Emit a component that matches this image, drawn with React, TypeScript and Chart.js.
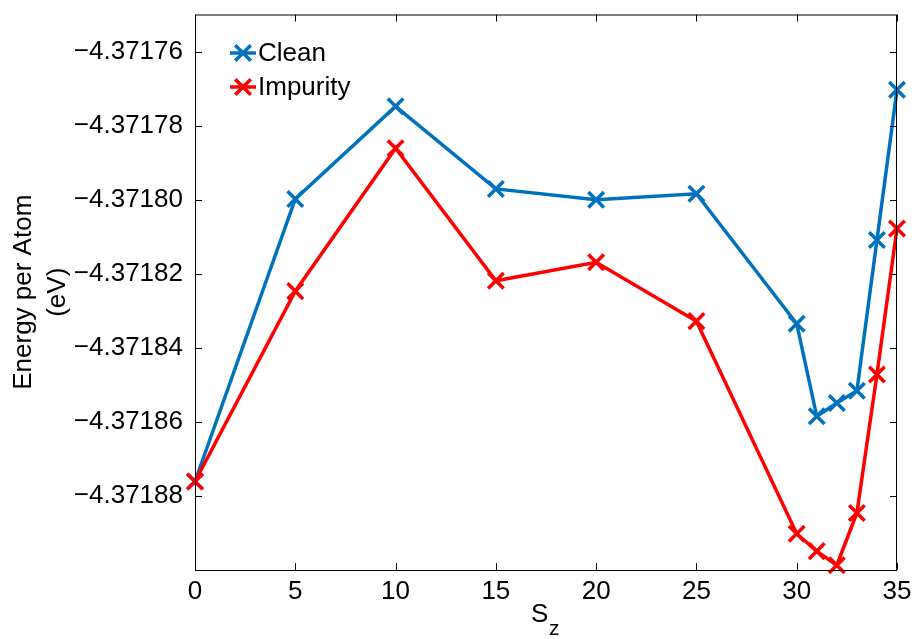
import React, { useEffect, useRef } from "react";
import { Chart, registerables } from "chart.js";

Chart.register(...registerables);

const xValues = [0, 5, 10, 15, 20, 25, 30, 31, 32, 33, 34, 35];
const cleanValues = [
  -4.3718761, -4.3717998, -4.3717748, -4.3717971, -4.37180, -4.3717984,
  -4.3718335, -4.3718585, -4.3718549, -4.3718516, -4.3718109, -4.3717703,
];
const impurityValues = [
  -4.3718761, -4.3718247, -4.3717861, -4.3718219, -4.3718169, -4.3718328,
  -4.3718902, -4.3718949, -4.3718987, -4.3718846, -4.3718472, -4.3718078,
];
const xTicks = [0, 5, 10, 15, 20, 25, 30, 35];
const yTicks = [-4.37188, -4.37186, -4.37184, -4.37182, -4.3718, -4.37178, -4.37176];
const seriesNames = ["Clean", "Impurity"];
const seriesColors = ["#0072BD", "#FF0000"];
const yTitleLines = ["Energy per Atom", "(eV)"];
const xTitleMain = "S";
const xTitleSub = "z";

const FONT = "'Liberation Sans', Arial, Helvetica, sans-serif";
const FS = 26;
const LW = 3.5;

function drawCross(ctx: CanvasRenderingContext2D, x: number, y: number, r: number) {
  const d = r * Math.SQRT1_2;
  ctx.beginPath();
  ctx.moveTo(x - d, y - d);
  ctx.lineTo(x + d, y + d);
  ctx.moveTo(x - d, y + d);
  ctx.lineTo(x + d, y - d);
  ctx.stroke();
}

const decorPlugin = {
  id: "decor",
  afterDraw(chart: any) {
    const { ctx, chartArea } = chart;
    const { left, right, top, bottom } = chartArea;
    const xs = chart.scales.x;
    const ys = chart.scales.y;
    ctx.save();
    ctx.strokeStyle = "#000";
    ctx.lineWidth = 1;
    ctx.strokeRect(left + 0.5, top + 0.5, right - left - 1, bottom - top);
    const tl = 7;
    ctx.beginPath();
    for (const v of xTicks) {
      const px = Math.round(xs.getPixelForValue(v)) + 0.5;
      ctx.moveTo(px, bottom);
      ctx.lineTo(px, bottom - tl);
      ctx.moveTo(px, top);
      ctx.lineTo(px, top + tl);
    }
    for (const v of yTicks) {
      const py = Math.round(ys.getPixelForValue(v)) + 0.5;
      ctx.moveTo(left, py);
      ctx.lineTo(left + tl, py);
      ctx.moveTo(right, py);
      ctx.lineTo(right - tl, py);
    }
    ctx.stroke();

    // y title
    ctx.fillStyle = "#000";
    ctx.font = `${FS}px ${FONT}`;
    ctx.textAlign = "center";
    ctx.textBaseline = "middle";
    const cy = (top + bottom) / 2;
    ctx.save();
    ctx.translate(24, cy);
    ctx.rotate(-Math.PI / 2);
    ctx.fillText(yTitleLines[0], 0, 0);
    ctx.restore();
    ctx.save();
    ctx.translate(58, cy);
    ctx.rotate(-Math.PI / 2);
    ctx.fillText(yTitleLines[1], 0, 0);
    ctx.restore();

    // x title
    ctx.textAlign = "left";
    ctx.textBaseline = "alphabetic";
    ctx.font = `${FS}px ${FONT}`;
    ctx.fillText(xTitleMain, 531, 622);
    ctx.font = `21px ${FONT}`;
    ctx.fillText(xTitleSub, 549, 635);

    // legend
    ctx.font = `${FS}px ${FONT}`;
    ctx.textBaseline = "middle";
    const legY = [53, 87];
    seriesNames.forEach((name, i) => {
      ctx.strokeStyle = seriesColors[i];
      ctx.lineWidth = LW;
      ctx.beginPath();
      ctx.moveTo(230, legY[i]);
      ctx.lineTo(256, legY[i]);
      ctx.stroke();
      drawCross(ctx, 243, legY[i], 11);
      ctx.fillStyle = "#000";
      ctx.fillText(name, 258, legY[i] + 1);
    });
    ctx.restore();
  },
};

export default function App() {
  const canvasRef = useRef<HTMLCanvasElement | null>(null);
  useEffect(() => {
    document.body.style.margin = "0";
    const canvas = canvasRef.current;
    if (!canvas) return;
    const mk = (vals: number[]) => xValues.map((x, i) => ({ x, y: vals[i] }));
    const ds = (i: number, vals: number[], order: number) => ({
      label: seriesNames[i],
      data: mk(vals),
      borderColor: seriesColors[i],
      backgroundColor: seriesColors[i],
      borderWidth: LW,
      pointStyle: "crossRot",
      pointRadius: 11,
      pointBorderWidth: LW,
      pointBorderColor: seriesColors[i],
      clip: false as any,
      tension: 0,
      order,
    });
    const chart = new Chart(canvas, {
      type: "line",
      data: {
        datasets: [ds(0, cleanValues, 2) as any, ds(1, impurityValues, 1) as any],
      },
      options: {
        animation: false,
        responsive: false,
        devicePixelRatio: 1,
        layout: { padding: { top: 10, right: 20, left: 0, bottom: 0 } },
        plugins: { legend: { display: false }, tooltip: { enabled: false } },
        scales: {
          x: {
            type: "linear",
            min: 0,
            max: 35,
            grid: { display: false, drawTicks: false },
            border: { display: false },
            afterBuildTicks: (s: any) => {
              s.ticks = xTicks.map((v) => ({ value: v }));
            },
            afterFit: (s: any) => {
              s.height = 69;
              s.paddingLeft = 0;
              s.paddingRight = 0;
            },
            ticks: {
              color: "#000",
              font: { family: FONT, size: FS },
              padding: 6,
              maxRotation: 0,
              autoSkip: false,
              callback: (v: any) => String(v),
            },
          },
          y: {
            type: "linear",
            min: -4.3719,
            max: -4.37175,
            grid: { display: false, drawTicks: false },
            border: { display: false },
            afterBuildTicks: (s: any) => {
              s.ticks = yTicks.map((v) => ({ value: v }));
            },
            afterFit: (s: any) => {
              s.width = 195;
              s.paddingTop = 0;
              s.paddingBottom = 0;
            },
            ticks: {
              color: "#000",
              font: { family: FONT, size: FS },
              padding: 12,
              autoSkip: false,
              callback: (v: any) => "\u2212" + Math.abs(Number(v)).toFixed(5),
            },
          },
        },
      },
      plugins: [decorPlugin],
    });
    return () => chart.destroy();
  }, []);
  return (
    <div style={{ width: 917, height: 639 }}>
      <canvas ref={canvasRef} width={917} height={639} />
    </div>
  );
}
